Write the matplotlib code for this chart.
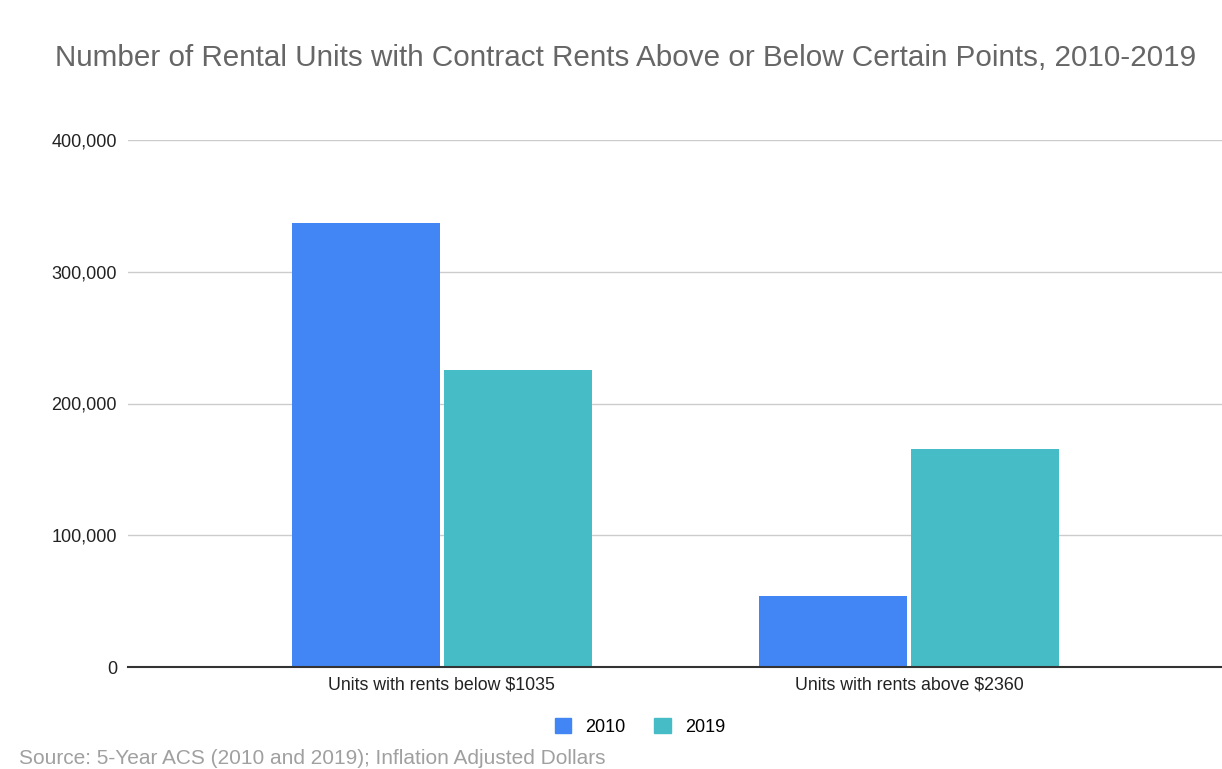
import matplotlib
matplotlib.use("Agg")
import matplotlib.pyplot as plt
from matplotlib.ticker import FuncFormatter
from matplotlib.patches import Patch
import numpy as np

categories = ["Units with rents below $1035", "Units with rents above $2360"]
years = ["2010", "2019"]
values_2010 = [337000, 54000]
values_2019 = [225500, 165500]
yticks = [0, 100000, 200000, 300000, 400000]

plt.rcParams["font.family"] = ["Liberation Sans", "DejaVu Sans"]

fig = plt.figure(figsize=(12.22, 7.69), dpi=100)
ax = fig.add_axes([128 / 1222, 1 - 667 / 769, (1222 - 128) / 1222, (667 - 140) / 769])

x = np.arange(len(categories))
w = 0.317
gap = 0.004
c2010 = "#4285F4"
c2019 = "#46BDC6"
ax.bar(x - w / 2 - gap, values_2010, width=w, color=c2010, zorder=3)
ax.bar(x + w / 2 + gap, values_2019, width=w, color=c2019, zorder=3)

ax.set_xlim(-0.672, 1.670)
ax.set_ylim(0, 400000)
ax.set_yticks(yticks)
ax.yaxis.set_major_formatter(FuncFormatter(lambda v, p: f"{int(v):,}"))
ax.set_xticks(x)
ax.set_xticklabels(categories)
ax.tick_params(axis="y", length=0, labelsize=13, colors="#222222", pad=8)
ax.tick_params(axis="x", length=0, labelsize=12.8, colors="#222222", pad=7)
ax.grid(axis="y", color="#cccccc", linewidth=1, zorder=0)
for s in ["top", "right", "left"]:
    ax.spines[s].set_visible(False)
ax.spines["bottom"].set_color("#333333")
ax.spines["bottom"].set_linewidth(1.5)
ax.spines["bottom"].set_zorder(4)

fig.text(55 / 1222, 1 - 58 / 769,
         "Number of Rental Units with Contract Rents Above or Below Certain Points, 2010-2019",
         fontsize=21.3, color="#666666", va="center", ha="left")

handles = [Patch(color=c2010), Patch(color=c2019)]
fig.legend(handles, years, loc="center", bbox_to_anchor=(640 / 1222, 1 - 727 / 769),
           ncol=2, frameon=False, fontsize=13, handlelength=0.9, handleheight=0.9,
           columnspacing=1.6, handletextpad=0.8)

fig.text(19 / 1222, 1 - 759 / 769, "Source: 5-Year ACS (2010 and 2019); Inflation Adjusted Dollars",
         fontsize=15, color="#a0a0a0", va="center", ha="left")

fig.savefig("out.png", dpi=100)
